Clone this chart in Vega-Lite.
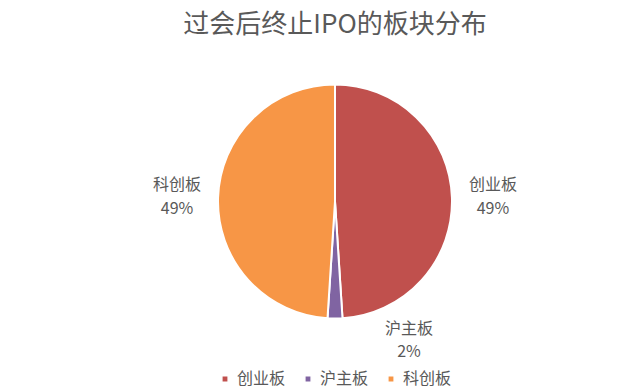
{
  "$schema": "https://vega.github.io/schema/vega-lite/v6.json",
  "autosize": {"type": "fit", "contains": "padding"},
  "width": 640,
  "height": 391,
  "padding": {"top": 12, "bottom": 38, "left": 30, "right": 0},
  "background": "white",
  "title": {
    "text": "过会后终止IPO的板块分布",
    "fontSize": 26,
    "font": "Noto Sans CJK SC",
    "fontWeight": "normal",
    "color": "#595959",
    "offset": 12
  },
  "data": {
    "values": [
      {"board": "创业板", "count": 24, "share": 0.49},
      {"board": "沪主板", "count": 1, "share": 0.02},
      {"board": "科创板", "count": 24, "share": 0.49}
    ]
  },
  "encoding": {
    "theta": {"field": "count", "type": "quantitative", "stack": true},
    "order": {"field": "board", "type": "ordinal"},
    "color": {
      "field": "board",
      "type": "nominal",
      "scale": {"domain": ["创业板", "沪主板", "科创板"], "range": ["#C0504D", "#8064A2", "#F79646"]},
      "legend": {
        "orient": "none",
        "legendX": 187,
        "legendY": 321,
        "direction": "horizontal",
        "title": null,
        "symbolType": "square",
        "symbolSize": 40,
        "labelFontSize": 16,
        "labelFont": "Noto Sans CJK SC",
        "labelColor": "#595959",
        "labelOffset": 4,
        "columnPadding": 14
      }
    }
  },
  "layer": [
    {
      "mark": {"type": "arc", "outerRadius": 117, "stroke": "white", "strokeWidth": 2}
    },
    {
      "mark": {"type": "text", "radius": 158, "dy": -11, "fontSize": 16, "font": "Noto Sans CJK SC"},
      "encoding": {
        "text": {"field": "board"},
        "color": {"value": "#595959"},
        "opacity": {"condition": {"test": "datum.board !== '沪主板'", "value": 1}, "value": 0}
      }
    },
    {
      "mark": {"type": "text", "radius": 158, "dy": 13, "fontSize": 16, "font": "Noto Sans CJK SC"},
      "encoding": {
        "text": {"field": "share", "format": ".0%"},
        "color": {"value": "#595959"},
        "opacity": {"condition": {"test": "datum.board !== '沪主板'", "value": 1}, "value": 0}
      }
    },
    {
      "mark": {"type": "text", "radius": 139, "dx": 74, "dy": -12, "fontSize": 16, "font": "Noto Sans CJK SC"},
      "encoding": {
        "text": {"field": "board"},
        "color": {"value": "#595959"},
        "opacity": {"condition": {"test": "datum.board === '沪主板'", "value": 1}, "value": 0}
      }
    },
    {
      "mark": {"type": "text", "radius": 139, "dx": 74, "dy": 11, "fontSize": 16, "font": "Noto Sans CJK SC"},
      "encoding": {
        "text": {"field": "share", "format": ".0%"},
        "color": {"value": "#595959"},
        "opacity": {"condition": {"test": "datum.board === '沪主板'", "value": 1}, "value": 0}
      }
    }
  ]
}
